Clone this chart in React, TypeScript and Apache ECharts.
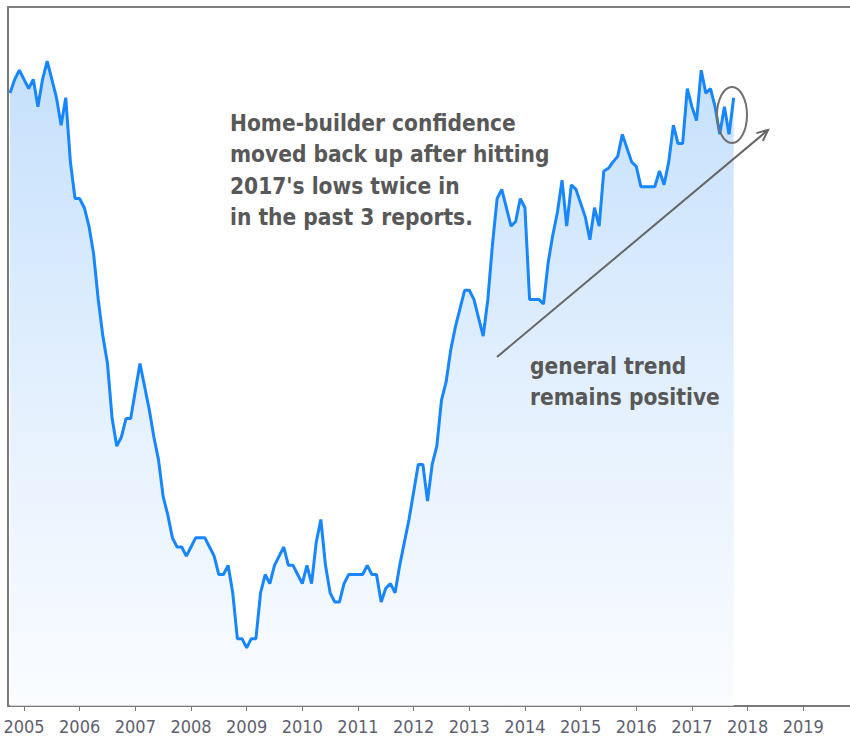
import React, { useEffect, useRef } from "react";
import * as echarts from "echarts";

// Monthly home-builder confidence index values
const startYear = 2004;
const startMonth = 10; // October 2004
const v2004 = [68.5, 70, 71];
const v2005 = [70, 69, 70, 67, 70, 72, 70, 68, 65, 68, 61, 57];
const v2006 = [57, 56, 54, 51, 46, 42, 39, 33, 30, 31, 33, 33];
const v2007 = [36, 39, 36.5, 34, 31, 28.5, 24.5, 22.5, 20, 19, 19, 18];
const v2008 = [19, 20, 20, 20, 19, 18, 16, 16, 17, 14, 9, 9];
const v2009 = [8, 9, 9, 14, 16, 15, 17, 18, 19, 17, 17, 16];
const v2010 = [15, 17, 15, 19.5, 22, 17, 14, 13, 13, 15, 16, 16];
const v2011 = [16, 16, 17, 16, 16, 13, 14.5, 15, 14, 17, 19.5, 22];
const v2012 = [25, 28, 28, 24, 28, 30, 35, 37, 40.5, 43, 45, 47];
const v2013 = [47, 46, 44, 42, 46, 52, 57, 58, 56, 54, 54.5, 57];
const v2014 = [56, 46, 46, 46, 45.5, 50, 53, 55.5, 59, 54, 58.5, 58];
const v2015 = [56.5, 55, 52.5, 56, 54, 60, 60.3, 61, 61.6, 64, 62.5, 61];
const v2016 = [60.5, 58.3, 58.3, 58.3, 58.3, 60, 58.5, 61, 65, 63, 63, 69];
const v2017 = [67, 65.5, 71, 68.5, 69, 67, 64, 67, 64, 68];

const yearTicks = [2005, 2006, 2007, 2008, 2009, 2010, 2011, 2012, 2013, 2014, 2015, 2016, 2017, 2018, 2019];

const noteLines = [
  "Home-builder confidence",
  "moved back up after hitting",
  "2017's lows twice in",
  "in the past 3 reports.",
];
const trendLines = ["general trend", "remains positive"];

const allValues = [
  ...v2004, ...v2005, ...v2006, ...v2007, ...v2008, ...v2009, ...v2010,
  ...v2011, ...v2012, ...v2013, ...v2014, ...v2015, ...v2016, ...v2017,
];

export default function App() {
  const ref = useRef<HTMLDivElement>(null);

  useEffect(() => {
    if (!ref.current) return;
    const chart = echarts.init(ref.current, null, { renderer: "svg" });

    const points = allValues.map((v, i) => {
      const m = startMonth - 1 + i;
      return [startYear + m / 12, v];
    });

    const textFont = "'DejaVu Sans Condensed', 'DejaVu Sans', sans-serif";

    chart.setOption({
      animation: false,
      backgroundColor: "#ffffff",
      grid: { left: 8, right: 0, top: 7, bottom: 32 },
      xAxis: {
        type: "value",
        min: 2004.7125,
        max: 2019.84,
        splitLine: { show: false },
        axisLine: { show: true, lineStyle: { color: "#7a7a7a", width: 2 } },
        axisTick: {
          show: true,
          customValues: yearTicks,
          length: 5,
          lineStyle: { color: "#777777", width: 1 },
        },
        axisLabel: {
          customValues: yearTicks,
          formatter: (v: number) => String(Math.round(v)),
          color: "#5f5f70",
          fontSize: 18,
          fontFamily: "'DejaVu Sans Condensed', 'DejaVu Sans', sans-serif",
          margin: 11,
        },
      },
      yAxis: {
        type: "value",
        min: 1.66,
        max: 77.89,
        splitLine: { show: false },
        axisTick: { show: false },
        axisLabel: { show: false },
        axisLine: { show: true, lineStyle: { color: "#7a7a7a", width: 2 } },
      },
      series: [
        {
          type: "line",
          data: points,
          showSymbol: false,
          symbol: "none",
          lineStyle: { color: "#1786ff", width: 3 },
          areaStyle: {
            color: new echarts.graphic.LinearGradient(0, 0, 0, 1, [
              { offset: 0, color: "#acd3fb" },
              { offset: 0.5, color: "#d7e9fd" },
              { offset: 1, color: "#f8fbff" },
            ]),
          },
          z: 2,
        },
      ],
      graphic: [
        {
          type: "line",
          shape: { x1: 7, y1: 7, x2: 850, y2: 7 },
          style: { stroke: "#7d7d7d", lineWidth: 2 },
          z: 10,
        },
        {
          type: "ellipse",
          shape: { cx: 732, cy: 115, rx: 15, ry: 28 },
          style: { stroke: "#707070", fill: "none", lineWidth: 2 },
          z: 10,
        },
        {
          type: "line",
          shape: { x1: 497, y1: 357, x2: 768, y2: 130 },
          style: { stroke: "#666666", lineWidth: 2 },
          z: 10,
        },
        {
          type: "polyline",
          shape: { points: [[756.4, 133.1], [768, 130], [762.9, 140.9]] },
          style: { stroke: "#666666", lineWidth: 2, fill: "none" },
          z: 10,
        },
        {
          type: "text",
          x: 230,
          y: 107,
          style: {
            text: noteLines.join("\n"),
            fill: "#585858",
            fontSize: 22.5,
            fontWeight: "bold",
            fontFamily: textFont,
            lineHeight: 31.5,
            verticalAlign: "top",
            align: "left",
          },
          z: 11,
        },
        {
          type: "text",
          x: 530,
          y: 350,
          style: {
            text: trendLines.join("\n"),
            fill: "#585858",
            fontSize: 22.5,
            fontWeight: "bold",
            fontFamily: textFont,
            lineHeight: 31.5,
            verticalAlign: "top",
            align: "left",
          },
          z: 11,
        },
      ],
    });

    return () => chart.dispose();
  }, []);

  return (
    <div
      ref={ref}
      style={{ position: "absolute", left: 0, top: 0, width: 850, height: 738 }}
    />
  );
}
